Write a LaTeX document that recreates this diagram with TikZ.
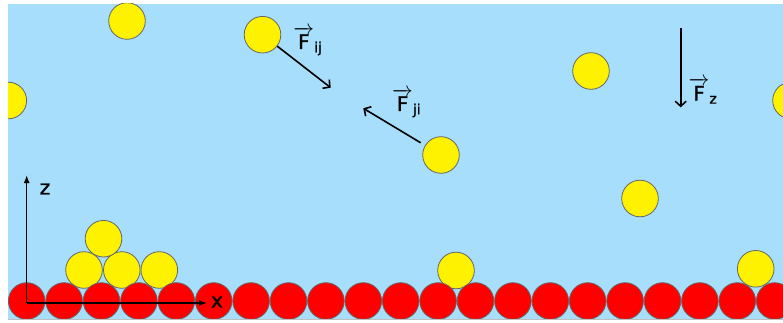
\documentclass[tikz,border=0pt]{standalone}
\usepackage{amsmath}
\usepackage{fontspec}
\setmainfont{DejaVu Sans}
\newfontfamily\lblfont[FakeBold=1.2]{DejaVu Sans}
\usetikzlibrary{arrows.meta}
\definecolor{skyb}{RGB}{166,222,252}
\tikzset{
 ball/.style={circle, draw=black!60, line width=0.8pt, minimum size=36.6pt, inner sep=0pt},
 yball/.style={ball, fill=yellow},
 rball/.style={ball, fill=red},
 force/.style={line width=1.6pt, -{Straight Barb[length=5pt,width=11pt]}},
 axis/.style={line width=1.4pt, -{Latex[length=8pt,width=6pt]}},
 lbl/.style={font=\lblfont\fontsize{20}{22}\selectfont, inner sep=0pt}
}
\begin{document}
\begin{tikzpicture}[x=1pt,y=-1pt]
\useasboundingbox (0,0) rectangle (783,323);
\fill[white] (0,0) rectangle (783,323);
\begin{scope}
\clip (8,4) rectangle (783,319);
\fill[skyb] (8,4) rectangle (783,319);
% free yellow balls
\node[yball] (y1) at (127,21) {};
\node[yball] (y2) at (8.3,100.5) {};
\node[yball] (y3) at (262.5,34.7) {};
\node[yball] (y4) at (441,155) {};
\node[yball] (y5) at (591,71) {};
\node[yball] (y6) at (791,100.5) {};
\node[yball] (y7) at (640,198.5) {};
% resting yellow balls
\node[yball] (y8) at (84,270) {};
\node[yball] (y9) at (121.8,270) {};
\node[yball] (y10) at (159.3,270) {};
\node[yball] (y11) at (103.5,238.7) {};
\node[yball] (y12) at (456,270.5) {};
\node[yball] (y13) at (755.7,268.8) {};
% red bed
\foreach \k in {0,...,20} \node[rball] (r\k) at ({26.7+37.4*\k},301) {};
\end{scope}
\draw[black!25, line width=0.8pt] (8,319.5) -- (783,319.5);
% forces
\coordinate (fij) at (330.7,87.7);
\coordinate (fji) at (363.3,108.3);
\coordinate (fzs) at (680.7,28.3);
\coordinate (fze) at (680.7,107.3);
\draw[force] (y3) -- (fij);
\draw[force, shorten <=5pt] (y4) -- (fji);
\draw[force] (fzs) -- (fze);
\node[lbl] (lij) at (308,41) {$\overrightarrow{\text{F}}_{\text{ij}}$};
\node[lbl] (lji) at (406.7,103) {$\overrightarrow{\text{F}}_{\text{ji}}$};
\node[lbl] (lz) at (703,91) {$\overrightarrow{\text{F}}_{\text{z}}$};
% axes
\coordinate (o) at (26.7,303);
\coordinate (zend) at (26.7,175);
\coordinate (xend) at (207,303);
\draw[axis] (o) -- (zend);
\draw[axis] (o) -- (xend);
\node[lbl] (lzax) at (45,189) {z};
\node[lbl] (lxax) at (217,302) {x};
\end{tikzpicture}
\end{document}
